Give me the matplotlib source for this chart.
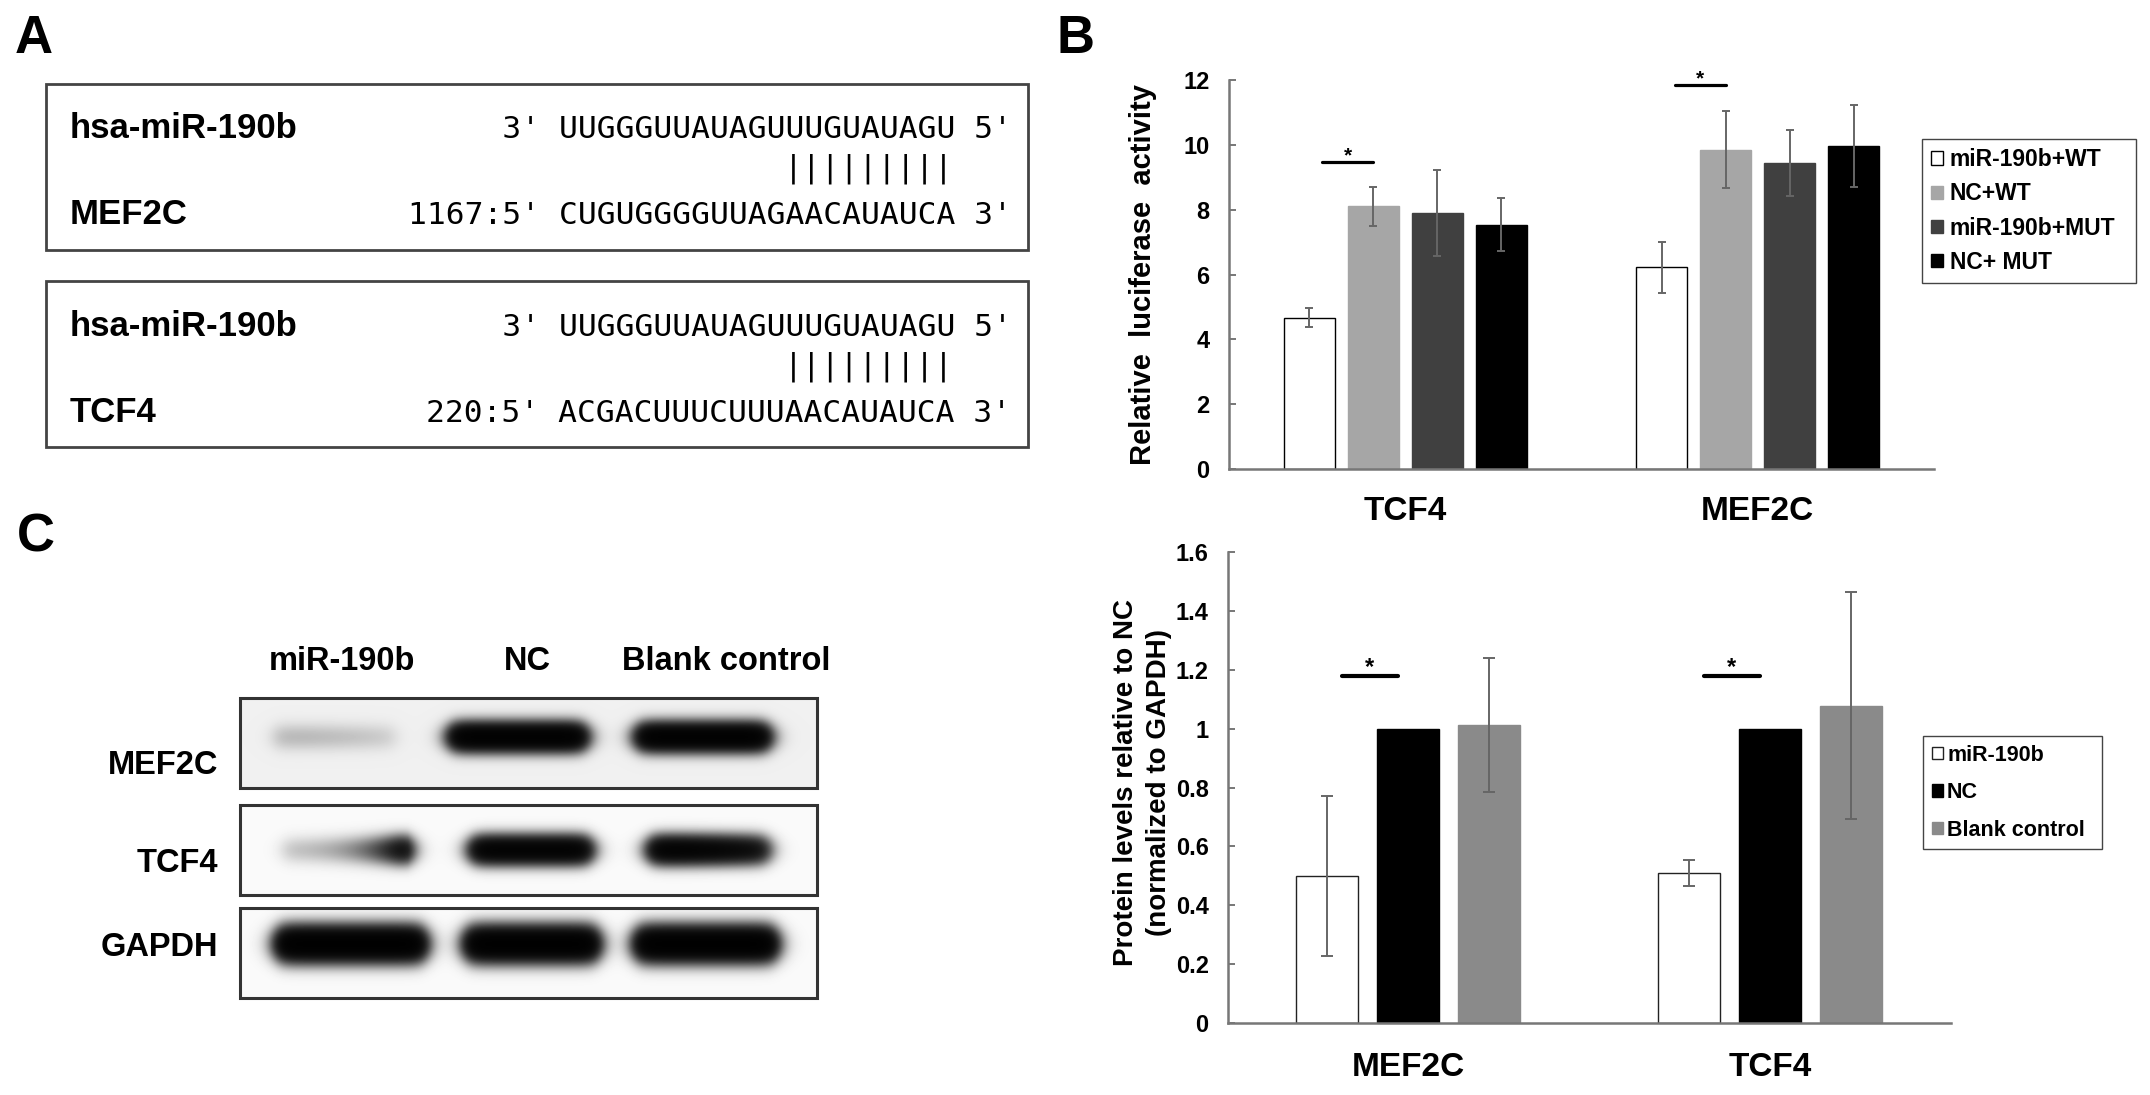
#!/usr/bin/env python3
# -*- coding: utf-8 -*-
"""
miR-190b target figure: seed alignment (A), luciferase assay (B),
western blot + densitometry (C).

Output: out.png (2150 x 1095)
"""
import matplotlib
matplotlib.use("Agg")
import matplotlib.pyplot as plt
import numpy as np
from matplotlib.patches import Rectangle
from matplotlib.ticker import FuncFormatter

plt.rcParams["font.family"] = ["Liberation Sans", "DejaVu Sans"]
plt.rcParams["font.weight"] = "bold"
plt.rcParams["axes.labelweight"] = "bold"

W, H = 2150, 1095

# ---- panel A: alignments
mir_name = "hsa-miR-190b"
mir_seq = "UUGGGUUAUAGUUUGUAUAGU"
targets = ["MEF2C", "TCF4"]
target_sites = ["1167", "220"]
target_seqs = ["CUGUGGGGUUAGAACAUAUCA", "ACGACUUUCUUUAACAUAUCA"]
n_paired = 9

# ---- panel B: luciferase
categories_b = ["TCF4", "MEF2C"]
series_b = ["miR-190b+WT", "NC+WT", "miR-190b+MUT", "NC+ MUT"]
mir_wt = [4.67, 6.22]
nc_wt = [8.10, 9.85]
mir_mut = [7.89, 9.45]
nc_mut = [7.53, 9.96]
mir_wt_err = [0.30, 0.78]
nc_wt_err = [0.60, 1.18]
mir_mut_err = [1.33, 1.02]
nc_mut_err = [0.82, 1.27]
sig_b = [9.48, 11.86]

# ---- panel C: protein levels
categories_c = ["MEF2C", "TCF4"]
series_c = ["miR-190b", "NC", "Blank control"]
prot_mir = [0.50, 0.51]
prot_nc = [1.00, 1.00]
prot_blank = [1.012, 1.079]
prot_mir_err = [0.273, 0.043]
prot_nc_err = [0.0, 0.0]
prot_blank_err = [0.228, 0.385]
sig_c = [1.179, 1.179]

# ---- panel C: blot band intensities (left / right half of each lane)
blot_lanes = ["miR-190b", "NC", "Blank control"]
blot_rows = ["MEF2C", "TCF4", "GAPDH"]
mef2c_left = [0.26, 4.5, 4.5]
mef2c_right = [0.15, 4.5, 4.5]
tcf4_left = [0.25, 4.0, 4.0]
tcf4_right = [4.0, 4.0, 2.6]
gapdh_left = [5.0, 5.0, 5.0]
gapdh_right = [5.0, 5.0, 5.0]


def fx(xv):
    return xv / W


def fy(yv):
    return 1 - yv / H


fig = plt.figure(figsize=(W / 100, H / 100), dpi=100)
ax0 = fig.add_axes([0, 0, 1, 1])
ax0.set_zorder(0)

# panel letters
for lab, x, y in [("A", 15, 53), ("B", 1057, 53), ("C", 17, 551)]:
    ax0.text(x, y, lab, fontsize=38, ha="left", va="baseline")

# ---- panel A
mono = dict(family="DejaVu Sans Mono", weight="normal", fontsize=22.5)
cw = 0.602 * 22.5 * 100 / 72  # mono advance in px
seq_x = 558
for k, (tname, site, tseq) in enumerate(zip(targets, target_sites, target_seqs)):
    top = 84 + k * 197
    ax0.add_patch(Rectangle((46, top), 982, 166, fill=False,
                            edgecolor="#444444", linewidth=2))
    y1, ybar, y3 = top + 54.5, top + 93, top + 140.5
    ax0.text(70, y1, mir_name, fontsize=25, va="baseline")
    ax0.text(70, y3, tname, fontsize=25, va="baseline")
    ax0.text(seq_x - 8 * cw, y1, "     3' " + mir_seq + " 5'", va="baseline", **mono)
    pre = f"{site}:5' "
    ax0.text(seq_x - len(pre) * cw, y3, pre + tseq + " 3'", va="baseline", **mono)
    start = len(mir_seq) - n_paired
    ax0.text(seq_x + start * cw, ybar, "|" * n_paired, va="baseline", **mono)

# ---- panel C blot
BX0, BX1 = 240, 817
row_boxes = [(698, 788), (805, 895), (908, 998)]
row_yc = [737, 850, 944]
row_sy = [9, 9, 11]
row_base = [0.06, 0.02, 0.02]
row_lanes = [[(335, 60), (518, 66), (703, 64)],
             [(346, 62), (531, 58), (709, 58)],
             [(351, 72), (532, 64), (706, 68)]]
row_left = [mef2c_left, tcf4_left, gapdh_left]
row_right = [mef2c_right, tcf4_right, gapdh_right]

xs = np.arange(BX0, BX1) + 0.5
for (y0, y1), yc, sy, base, lanes, aL, aR in zip(row_boxes, row_yc, row_sy, row_base,
                                                  row_lanes, row_left, row_right):
    ys = np.arange(y0, y1) + 0.5
    dark = np.full((len(ys), len(xs)), base)
    prof_y = np.exp(-0.5 * ((ys - yc) / sy) ** 2)[:, None]
    for (c, hw), a0, a1 in zip(lanes, aL, aR):
        t = np.clip((xs - (c - hw)) / (2 * hw), 0, 1) ** 2
        amp = np.exp(np.log(a0) + t * (np.log(a1) - np.log(a0)))
        prof_x = 0.5 * (np.tanh((xs - (c - hw)) / 10) - np.tanh((xs - (c + hw)) / 10))
        dark = dark + (amp * prof_x)[None, :] * prof_y
    ax0.imshow(np.exp(-dark), cmap="gray", vmin=0, vmax=1, aspect="auto",
               extent=(BX0, BX1, y1, y0), interpolation="bilinear", zorder=1)
    ax0.add_patch(Rectangle((BX0, y0), BX1 - BX0, y1 - y0, fill=False,
                            edgecolor="#333333", linewidth=2.2, zorder=2))

for lab, x in zip(blot_lanes, [342, 527, 726]):
    ax0.text(x, 669.5, lab, fontsize=23.5, ha="center", va="baseline")
for lab, y in zip(blot_rows, [773.5, 871.5, 956.5]):
    ax0.text(218, y, lab, fontsize=23.5, ha="right", va="baseline")

ax0.set_xlim(0, W)
ax0.set_ylim(H, 0)
ax0.axis("off")

AXIS_GREY = "#777777"


def style_axis(ax):
    for s in ("top", "right"):
        ax.spines[s].set_visible(False)
    for s in ("left", "bottom"):
        ax.spines[s].set_color(AXIS_GREY)
        ax.spines[s].set_linewidth(1.8)
    ax.set_facecolor("none")
    ax.tick_params(axis="y", direction="in", length=5, width=1.4, color=AXIS_GREY,
                   labelsize=17, pad=14)
    ax.tick_params(axis="x", length=0, labelsize=24)


# ---- panel B chart
axb = fig.add_axes([fx(1229), fy(469), 705 / W, 389 / H])
xb = np.arange(len(categories_b))
pitch_b, width_b = 64 / 352.5, 51 / 352.5
vals_b = [mir_wt, nc_wt, mir_mut, nc_mut]
errs_b = [mir_wt_err, nc_wt_err, mir_mut_err, nc_mut_err]
colors_b = ["white", "#a6a6a6", "#404040", "black"]
for i, (name, v, e, col) in enumerate(zip(series_b, vals_b, errs_b, colors_b)):
    pos = xb + (i - 1.5) * pitch_b
    axb.bar(pos, v, width_b, color=col, label=name, zorder=2,
            edgecolor="black" if col == "white" else col, linewidth=1.0)
    axb.errorbar(pos, v, yerr=e, fmt="none", ecolor="#666666", elinewidth=1.4,
                 capsize=3, capthick=1.4, zorder=3)
for g, yv in zip(xb, sig_b):
    x0 = g - 1.5 * pitch_b + 0.2 * pitch_b
    x1 = g - 0.5 * pitch_b
    axb.plot([x0, x1], [yv, yv], color="black", linewidth=2.3,
             solid_capstyle="round", zorder=3)
    axb.text((x0 + x1) / 2, yv, "*", fontsize=15, ha="center", va="baseline")
axb.set_xlim(-0.5, 1.5)
axb.set_ylim(0, 12)
axb.set_yticks(np.arange(0, 13, 2))
axb.set_xticks(xb)
axb.set_xticklabels(categories_b)
style_axis(axb)
axb.tick_params(axis="x", pad=19.5)
axb.set_ylabel("Relative  luciferase  activity", fontsize=21, fontweight="bold",
               va="center")
axb.yaxis.set_label_coords(-0.1213, 0.5)
axb.legend(loc="upper left", bbox_to_anchor=(fx(1922), fy(277), 214 / W, 138 / H),
           bbox_transform=fig.transFigure, mode="expand", borderaxespad=0,
           fontsize=16.5, handlelength=0.52, handleheight=0.52, handletextpad=0.3,
           labelspacing=0.49, borderpad=0.4, fancybox=False, framealpha=1,
           edgecolor="#444444")

# ---- panel C chart
axc = fig.add_axes([fx(1227.5), fy(1023), 723.5 / W, 470.7 / H])
xc = np.arange(len(categories_c))
pitch_c, width_c = 81 / 361.75, 62 / 361.75
vals_c = [prot_mir, prot_nc, prot_blank]
errs_c = [prot_mir_err, prot_nc_err, prot_blank_err]
colors_c = ["white", "black", "#8a8a8a"]
for i, (name, v, e, col) in enumerate(zip(series_c, vals_c, errs_c, colors_c)):
    pos = xc + (i - 1) * pitch_c
    axc.bar(pos, v, width_c, color=col, label=name, zorder=2,
            edgecolor="#222222" if col == "white" else col, linewidth=1.0)
    keep = [j for j in range(len(e)) if e[j] > 0]
    if keep:
        axc.errorbar(pos[keep], np.array(v)[keep], yerr=np.array(e)[keep], fmt="none",
                     ecolor="#666666", elinewidth=1.4, capsize=4, capthick=1.4, zorder=3)
for g, yv in zip(xc, sig_c):
    x0 = g - pitch_c + 0.18 * pitch_c
    x1 = g - 0.13 * pitch_c
    axc.plot([x0, x1], [yv, yv], color="black", linewidth=3,
             solid_capstyle="round", zorder=3)
    axc.text((x0 + x1) / 2, yv + 0.008, "*", fontsize=17, ha="center", va="baseline")
axc.set_xlim(-0.5, 1.5)
axc.set_ylim(0, 1.6)
axc.set_yticks(np.arange(0, 1.61, 0.2))
axc.yaxis.set_major_formatter(FuncFormatter(lambda v, _: f"{v:g}"))
axc.set_xticks(xc)
axc.set_xticklabels(categories_c)
style_axis(axc)
axc.tick_params(axis="y", pad=13.5)
axc.tick_params(axis="x", pad=21)
axc.set_ylabel("Protein levels relative to NC\n(normalized to GAPDH)", fontsize=20,
               fontweight="bold", va="center", linespacing=1.35)
axc.yaxis.set_label_coords(-0.1175, 0.511)
axc.legend(loc="upper left", bbox_to_anchor=(fx(1923), fy(847), 179 / W, 111 / H),
           bbox_transform=fig.transFigure, mode="expand", borderaxespad=0,
           fontsize=15.5, handlelength=0.51, handleheight=0.51, handletextpad=0.2,
           labelspacing=0.76, borderpad=0.41, fancybox=False, framealpha=1,
           edgecolor="#444444")

fig.savefig("out.png", dpi=100)
